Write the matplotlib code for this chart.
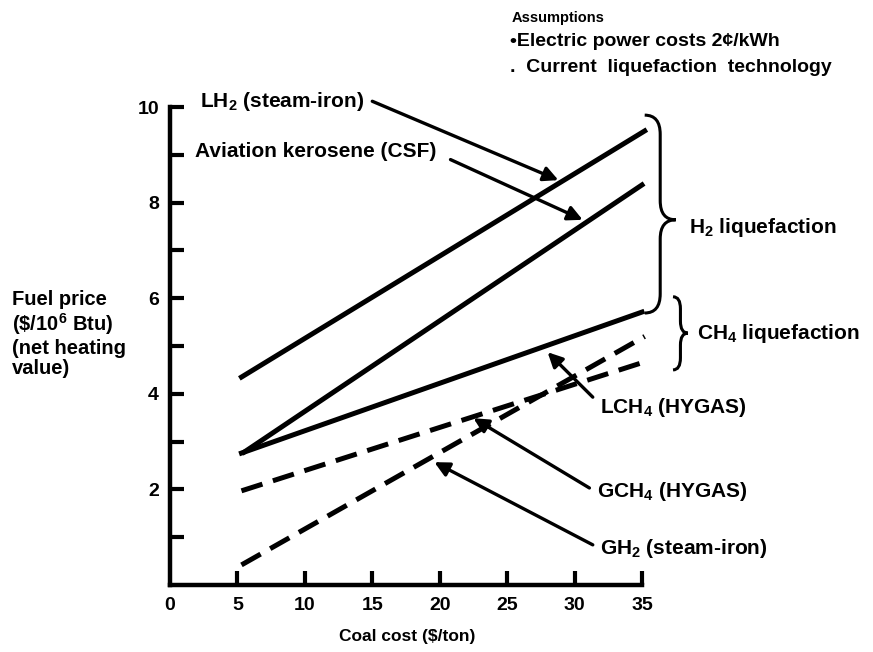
#!/usr/bin/env python3
"""fuel price vs coal cost chart, synthetic fuels with liquefaction"""
import matplotlib
matplotlib.use('Agg')
import matplotlib.pyplot as plt
from matplotlib.path import Path
from matplotlib.patches import PathPatch

plt.rcParams['font.family'] = ['Liberation Sans', 'DejaVu Sans']
plt.rcParams['font.weight'] = 'bold'
plt.rcParams['mathtext.default'] = 'regular'

# coal cost ($/ton) at the ends of each line, fuel price ($/10^6 Btu)
lh2_x = [5.3, 35.2]
lh2_y = [4.35, 9.5]
kero_x = [5.5, 35.0]
kero_y = [2.78, 8.37]
lch4_x = [5.3, 35.0]
lch4_y = [2.76, 5.71]
gch4_x = [5.3, 35.0]
gch4_y = [1.97, 4.65]
gh2_x = [5.3, 35.2]
gh2_y = [0.42, 5.2]

x_ticks = [0, 5, 10, 15, 20, 25, 30, 35]
y_ticks = [2, 4, 6, 8, 10]
y_minor = [1, 3, 5, 7, 9]

# label text, label position, arrow tail, arrow head
labels = [
    (r'LH$_2$ (steam-iron)', (2.2, 10.12), (15.0, 10.12), (28.8, 8.47)),
    ('Aviation kerosene (CSF)', (1.85, 9.06), (20.8, 8.9), (30.6, 7.64)),
    (r'LCH$_4$ (HYGAS)', (31.9, 3.72), (31.35, 3.93), (28.0, 4.87)),
    (r'GCH$_4$ (HYGAS)', (31.7, 1.95), (31.1, 2.03), (22.5, 3.49)),
    (r'GH$_2$ (steam-iron)', (31.9, 0.77), (31.35, 0.84), (19.6, 2.57)),
]


def brace(ax, x0, x1, ytop, ybot, ytip, r):
    """draw a right-facing curly brace in data coordinates"""
    xm = (x0 + x1) / 2.
    verts = [(x0, ytop), (xm, ytop), (xm, ytop - r),
             (xm, ytip + r),
             (xm, ytip), (x1, ytip),
             (xm, ytip), (xm, ytip - r),
             (xm, ybot + r),
             (xm, ybot), (x0, ybot)]
    codes = [Path.MOVETO, Path.CURVE3, Path.CURVE3,
             Path.LINETO,
             Path.CURVE3, Path.CURVE3,
             Path.CURVE3, Path.CURVE3,
             Path.LINETO,
             Path.CURVE3, Path.CURVE3]
    patch = PathPatch(Path(verts, codes), facecolor='none', edgecolor='black',
                      lw=2.2, clip_on=False)
    ax.add_patch(patch)


def main():
    fig = plt.figure(figsize=(8.73, 6.52), dpi=100)
    ax = fig.add_axes([170 / 873., 1 - 585 / 652., 472 / 873., 478 / 652.])

    lw = 3.6
    ax.plot(lh2_x, lh2_y, color='black', lw=lw, clip_on=False)
    ax.plot(kero_x, kero_y, color='black', lw=lw, clip_on=False)
    ax.plot(lch4_x, lch4_y, color='black', lw=lw, clip_on=False)
    ax.plot(gch4_x, gch4_y, color='black', lw=lw, ls=(0, (4.4, 2.2)), clip_on=False)
    ax.plot(gh2_x, gh2_y, color='black', lw=lw, ls=(0, (4.4, 2.2)), clip_on=False)

    ax.set_xlim(0, 35)
    ax.set_ylim(0, 10)
    for side in ['top', 'right']:
        ax.spines[side].set_visible(False)
    for side in ['left', 'bottom']:
        ax.spines[side].set_linewidth(3.2)
    ax.set_xticks(x_ticks)
    ax.set_xticklabels([str(t) for t in x_ticks])
    ax.set_yticks(y_ticks)
    ax.set_yticklabels([str(t) for t in y_ticks])
    ax.set_yticks(y_minor, minor=True)
    ax.tick_params(axis='both', which='both', direction='in', length=10, width=3,
                   labelsize=14)
    ax.tick_params(axis='x', pad=9)
    ax.tick_params(axis='y', pad=8)
    # no tick drawn at x=0
    ax.xaxis.get_major_ticks()[0].tick1line.set_visible(False)

    # curve labels and their arrows
    for text, pos, tail, head in labels:
        ax.text(pos[0], pos[1], text, fontsize=15, ha='left', va='center',
                fontweight='bold', clip_on=False)
        ax.annotate('', xy=head, xytext=tail,
                    arrowprops=dict(arrowstyle='-|>', lw=2.4, color='black',
                                    mutation_scale=22, shrinkA=0, shrinkB=0),
                    annotation_clip=False)

    # liquefaction braces
    brace(ax, 35.2, 37.5, 9.83, 5.69, 7.64, 0.4)
    brace(ax, 37.3, 38.4, 6.03, 4.5, 5.27, 0.25)
    ax.text(38.5, 7.47, r'H$_2$ liquefaction', fontsize=15, ha='left', va='center')
    ax.text(39.1, 5.27, r'CH$_4$ liquefaction', fontsize=15, ha='left', va='center')

    # axis titles
    fig.text(12 / 873., 1 - 334 / 652., 'Fuel price\n' + r'(\$/10$^6$ Btu)' + '\n(net heating\nvalue)',
             fontsize=14.5, ha='left', va='center', linespacing=1.12)
    fig.text(407 / 873., 1 - 637 / 652., 'Coal cost ($/ton)', fontsize=12.5,
             ha='center', va='center')

    # assumptions block
    fig.text(512 / 873., 1 - 18 / 652., 'Assumptions', fontsize=10.5, ha='left', va='center')
    fig.text(510 / 873., 1 - 42 / 652., u'\u2022Electric power costs 2\u00a2/kWh', fontsize=14,
             ha='left', va='center')
    fig.text(510 / 873., 1 - 68 / 652., '.  Current  liquefaction  technology', fontsize=14,
             ha='left', va='center')

    fig.savefig('out.png', dpi=100, facecolor='white')


if __name__ == '__main__':
    main()
